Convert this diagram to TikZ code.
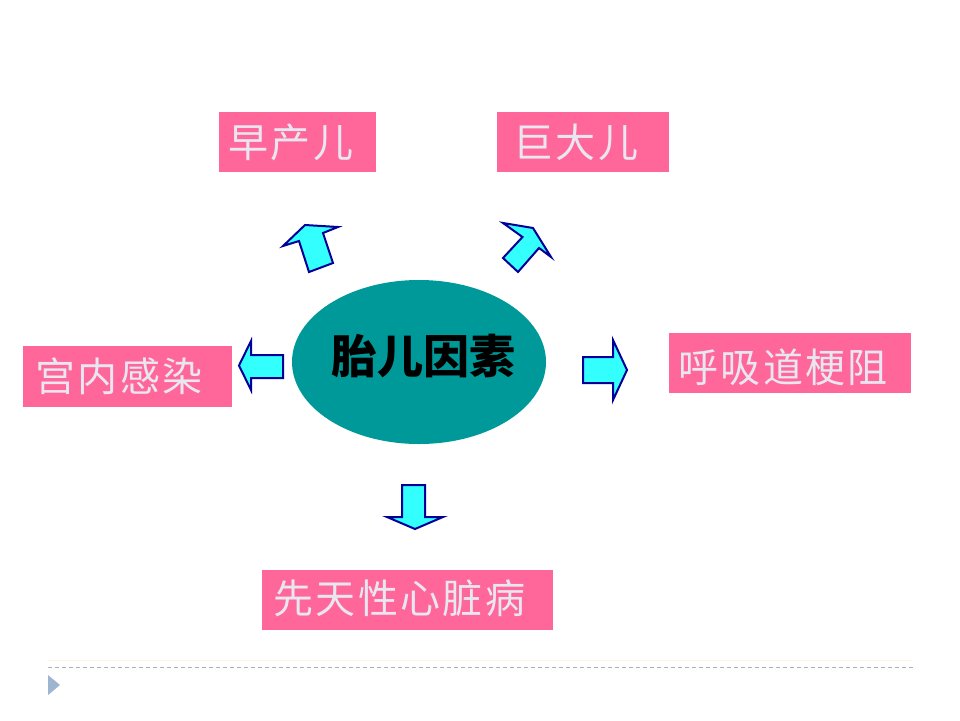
\documentclass[tikz,border=0pt]{standalone}
\usepackage{fontspec}
\newfontfamily\cjk{Noto Sans CJK SC}
\newfontfamily\cjkls[LetterSpace=6]{Noto Sans CJK SC}
\definecolor{boxpink}{HTML}{FF6699}
\definecolor{boxtxt}{HTML}{E8E6F0}
\definecolor{ovalteal}{HTML}{009999}
\definecolor{arrcyan}{HTML}{33FFFF}
\definecolor{arrblue}{HTML}{000099}
\definecolor{dashgray}{HTML}{A8B0B8}
\definecolor{triblue}{HTML}{9DB5D0}
\definecolor{faint}{HTML}{FFF6E6}
\tikzset{
  pinkbox/.style={rectangle, fill=boxpink, inner sep=0pt},
  boxlabel/.style={inner sep=0pt, anchor=base west, text=boxtxt, font=\cjkls\fontsize{40}{42}\selectfont},
  blockarrow/.style={draw=arrblue, fill=arrcyan, line width=2pt, line join=miter},
}
\begin{document}
\begin{tikzpicture}[x=1pt,y=-1pt]
\useasboundingbox (0,0) rectangle (960,720);
\fill[white] (0,0) rectangle (960,720);

% pink boxes
\node[pinkbox, minimum width=157pt, minimum height=60pt] (b1) at (297.5,142) {};
\node[boxlabel] (t1) at (228,157.7) {早产儿};
\node[pinkbox, minimum width=172pt, minimum height=60pt] (b2) at (583,142) {};
\node[boxlabel] (t2) at (513,157.7) {巨大儿};
\node[pinkbox, minimum width=242pt, minimum height=60pt] (b3) at (790,363) {};
\node[boxlabel] (t3) at (678,382) {呼吸道梗阻};
\node[pinkbox, minimum width=209pt, minimum height=61pt] (b4) at (127.5,376.5) {};
\node[boxlabel] (t4) at (35,391) {宫内感染};
\node[pinkbox, minimum width=291pt, minimum height=60pt] (b5) at (407.5,600) {};
\node[boxlabel] (t5) at (273,613) {先天性心脏病};

% central ellipse
\fill[ovalteal] (419,362) ellipse [x radius=127, y radius=82];
\node[inner sep=0pt, anchor=base, font=\cjk\bfseries\fontsize{46}{48}\selectfont] (c) at (423.5,373.5) {胎儿因素};

% block arrows
\draw[blockarrow] (309,272) -- (299,241) -- (283,246) -- (305,225) -- (338,227) -- (323,233) -- (333,263) -- cycle;
\draw[blockarrow] (503,258) -- (522.5,237) -- (503,223) -- (533,228) -- (551,257) -- (539,248) -- (518,272) -- cycle;
\draw[blockarrow] (283,355) -- (251,355) -- (251,341) -- (239,365.5) -- (251,390) -- (251,378) -- (283,378) -- cycle;
\draw[blockarrow] (583,357) -- (613,357) -- (613,340) -- (627,370) -- (613,400) -- (613,383) -- (583,383) -- cycle;
\draw[blockarrow] (402,485) -- (425,485) -- (425,517) -- (443,517) -- (415,529) -- (387,517) -- (402,517) -- cycle;

% footer
\draw[faint, line width=1pt] (48,660) -- (912,660);
\draw[dashgray, line width=1pt, dash pattern=on 4pt off 3pt] (48,667) -- (913,667);
\fill[triblue] (48,675) -- (60,685) -- (48,695) -- cycle;
\end{tikzpicture}
\end{document}
